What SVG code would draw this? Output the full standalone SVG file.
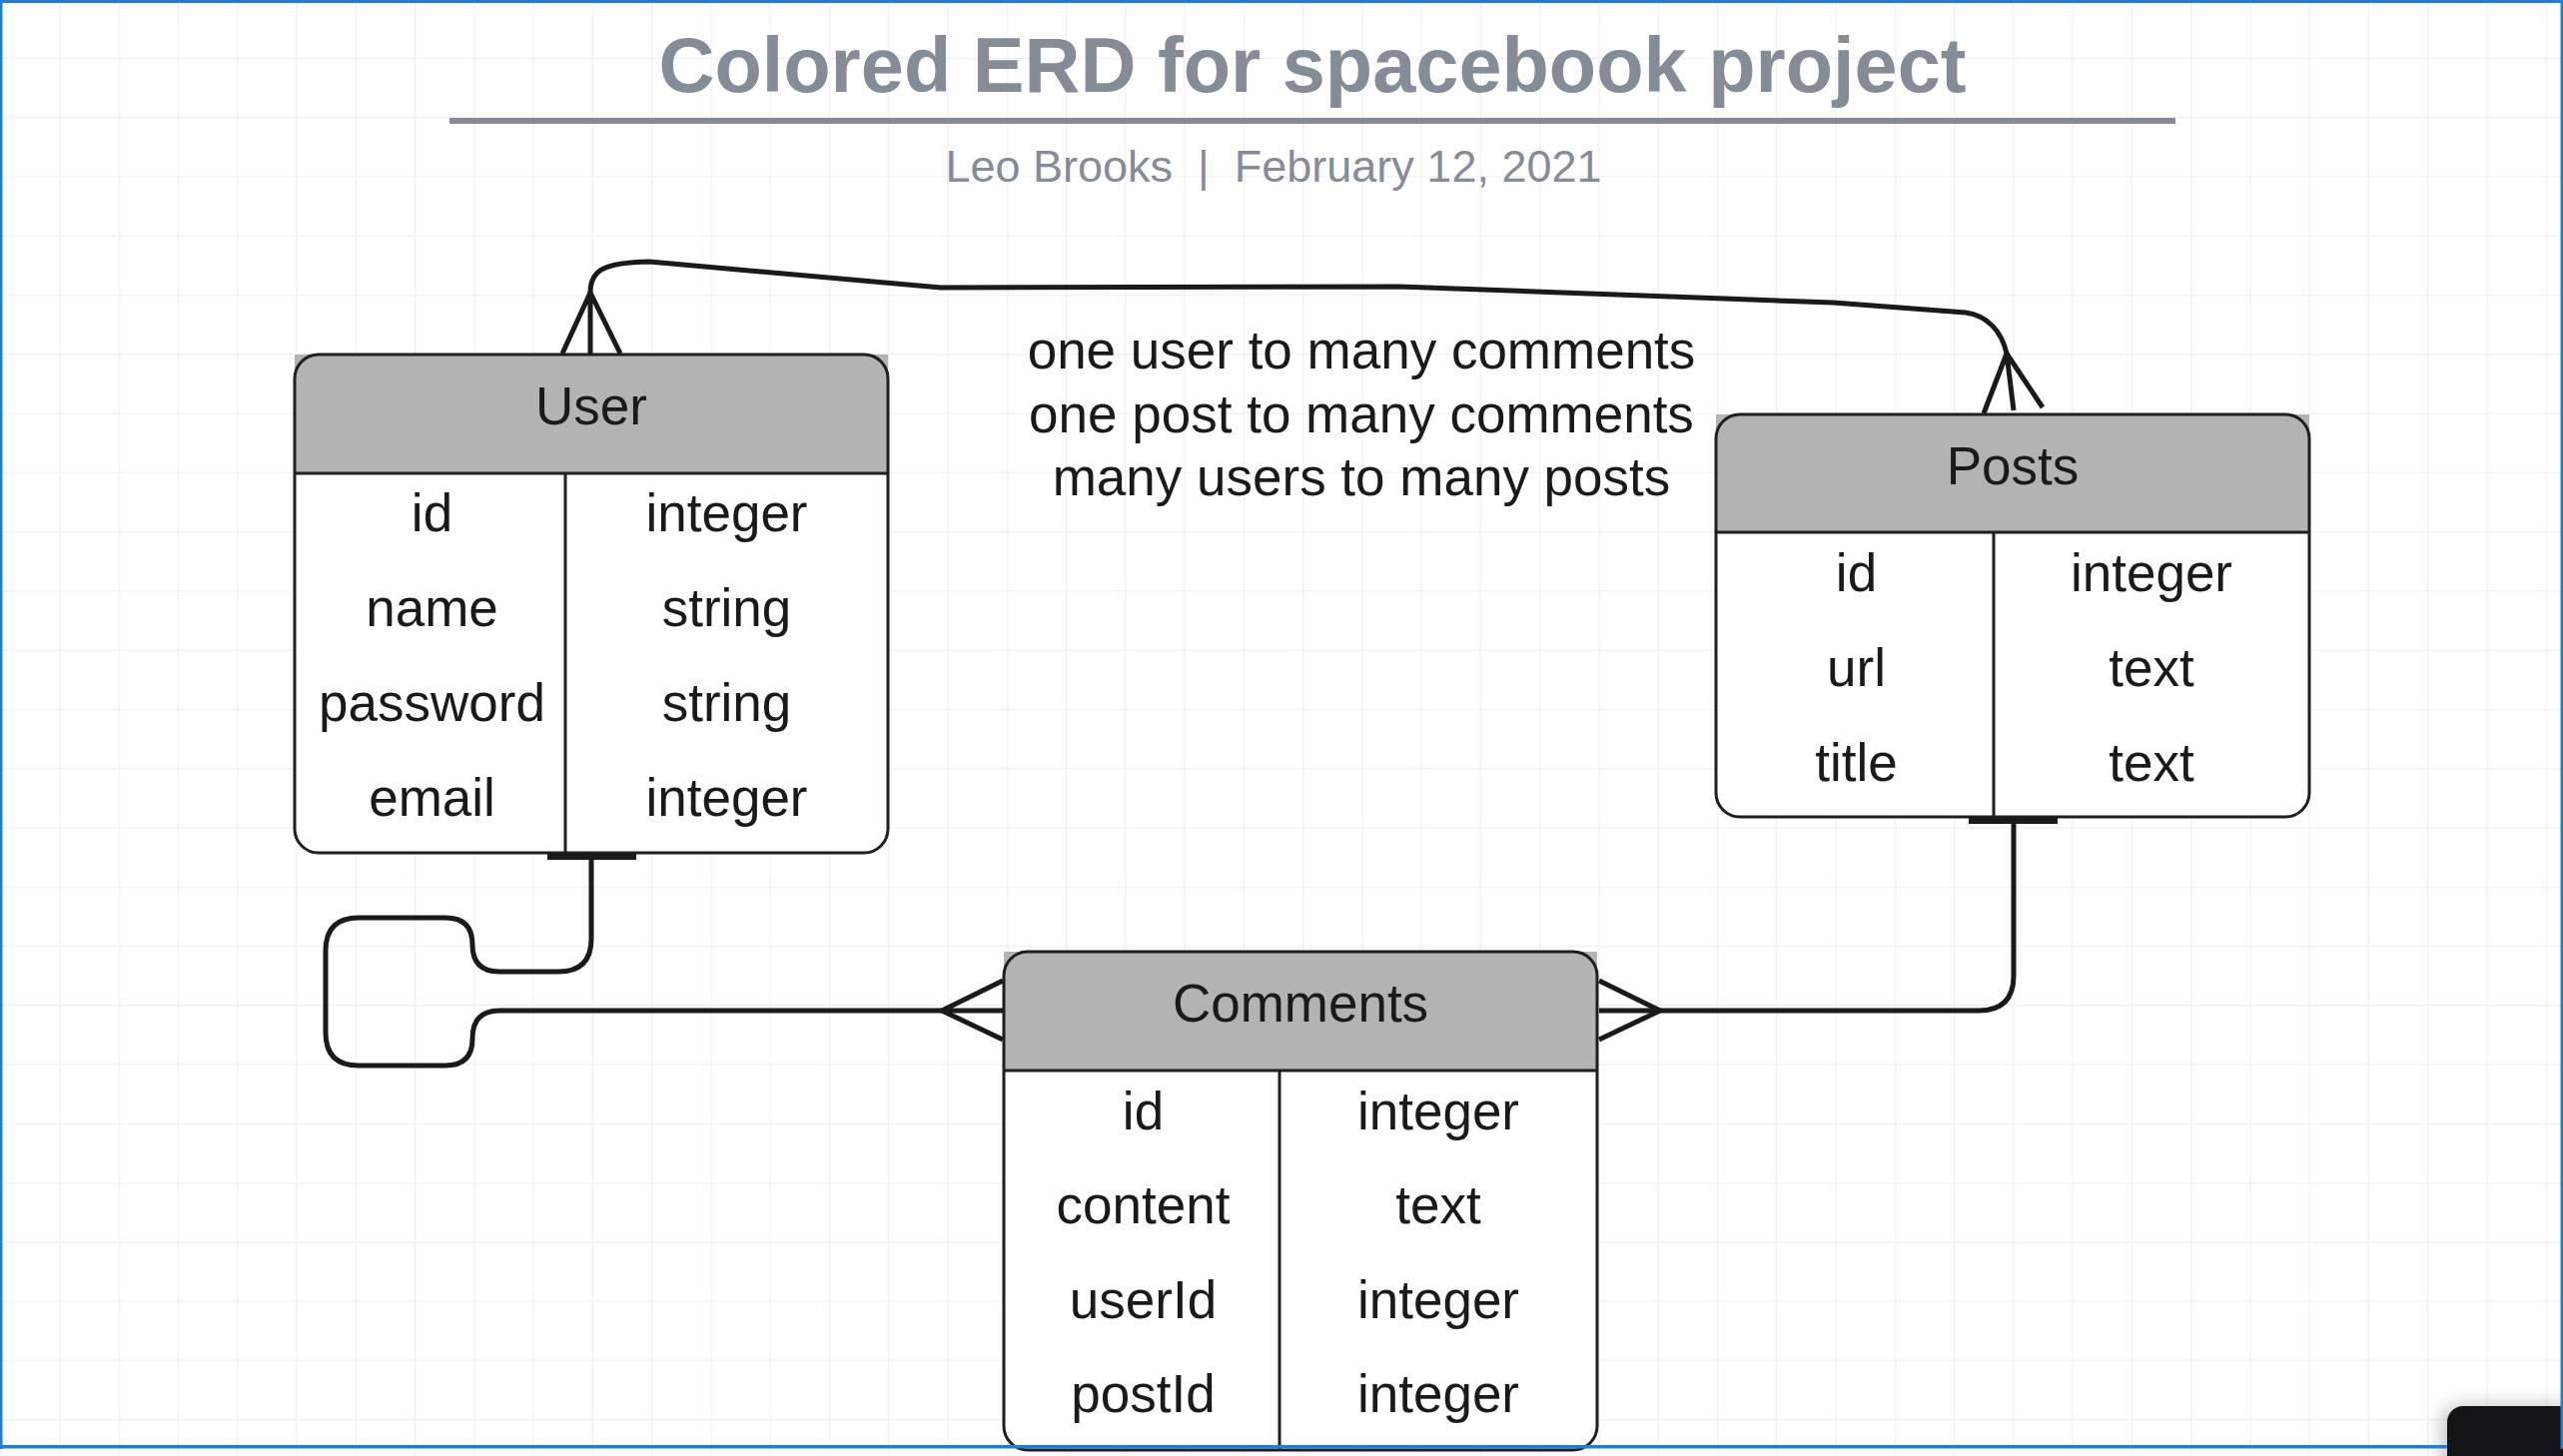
<svg xmlns="http://www.w3.org/2000/svg" width="2566" height="1458" viewBox="0 0 2566 1458">
  <defs>
    <pattern id="grid" patternUnits="userSpaceOnUse" x="0" y="-1.5" width="59.27" height="59.27">
      <rect x="0" y="0" width="1.3" height="59.27" fill="#f0f0f0"/>
      <rect x="0" y="0" width="59.27" height="1.3" fill="#f0f0f0"/>
    </pattern>
    <filter id="shadow" x="-50%" y="-50%" width="200%" height="200%">
      <feGaussianBlur stdDeviation="10"/>
    </filter>
    <style>
      .title { font-family: "Liberation Sans", Arial, sans-serif; font-weight: bold; font-size: 77.5px; fill: #868c97; text-anchor: middle; }
      .sub { font-family: "Liberation Sans", Arial, sans-serif; font-size: 45px; fill: #868c97; text-anchor: middle; }
      .t { font-family: "Liberation Sans", Arial, sans-serif; font-size: 53px; fill: #1a1a1a; text-anchor: middle; }
      .hdr { fill: #b3b3b3; }
      .body { fill: #ffffff; }
      .edge { fill: none; stroke: #1f1f1f; stroke-width: 3; }
      .conn { fill: none; stroke: #1a1a1a; stroke-width: 5; stroke-linejoin: round; }
      .bar { fill: #1a1a1a; }
    </style>
  </defs>

  <rect x="0" y="0" width="2566" height="1458" fill="#ffffff"/>
  <rect x="0" y="0" width="2566" height="1458" fill="url(#grid)"/>

  <g id="title">
    <text class="title" x="1314" y="92">Colored ERD for spacebook project</text>
    <rect x="450" y="118" width="1728" height="6" fill="#868c97"/>
    <text class="sub" x="1275" y="182" xml:space="preserve">Leo Brooks  |  February 12, 2021</text>
  </g>

  <g id="relations-note">
    <text class="t" x="1363" y="369">one user to many comments</text>
    <text class="t" x="1363" y="433">one post to many comments</text>
    <text class="t" x="1363" y="496">many users to many posts</text>
  </g>

  <g id="user">
    <rect class="hdr" x="295" y="355" width="594" height="119"/>
    <path class="body" d="M295,474 H889 V830 Q889,854 865,854 H319 Q295,854 295,830 Z"/>
    <rect class="edge" x="295" y="355" width="594" height="499" rx="24" ry="24"/>
    <line class="edge" x1="295" y1="474" x2="889" y2="474"/>
    <line class="edge" x1="566" y1="474" x2="566" y2="854"/>
    <text class="t" x="592" y="425">User</text>
    <text class="t" x="432.5" y="532">id</text>
    <text class="t" x="727.5" y="532">integer</text>
    <text class="t" x="432.5" y="627">name</text>
    <text class="t" x="727.5" y="627">string</text>
    <text class="t" x="432.5" y="722">password</text>
    <text class="t" x="727.5" y="722">string</text>
    <text class="t" x="432.5" y="817">email</text>
    <text class="t" x="727.5" y="817">integer</text>
  </g>

  <g id="posts">
    <rect class="hdr" x="1718" y="415" width="594" height="118"/>
    <path class="body" d="M1718,533 H2312 V794 Q2312,818 2288,818 H1742 Q1718,818 1718,794 Z"/>
    <rect class="edge" x="1718" y="415" width="594" height="403" rx="24" ry="24"/>
    <line class="edge" x1="1718" y1="533" x2="2312" y2="533"/>
    <line class="edge" x1="1996" y1="533" x2="1996" y2="818"/>
    <text class="t" x="2015" y="485">Posts</text>
    <text class="t" x="1858.5" y="592">id</text>
    <text class="t" x="2154" y="592">integer</text>
    <text class="t" x="1858.5" y="687">url</text>
    <text class="t" x="2154" y="687">text</text>
    <text class="t" x="1858.5" y="782">title</text>
    <text class="t" x="2154" y="782">text</text>
  </g>

  <g id="comments">
    <rect class="hdr" x="1005" y="953" width="594" height="119"/>
    <path class="body" d="M1005,1072 H1599 V1428 Q1599,1452 1575,1452 H1029 Q1005,1452 1005,1428 Z"/>
    <rect class="edge" x="1005" y="953" width="594" height="499" rx="24" ry="24"/>
    <line class="edge" x1="1005" y1="1072" x2="1599" y2="1072"/>
    <line class="edge" x1="1281" y1="1072" x2="1281" y2="1452"/>
    <text class="t" x="1302" y="1023">Comments</text>
    <text class="t" x="1144.5" y="1131">id</text>
    <text class="t" x="1440" y="1131">integer</text>
    <text class="t" x="1144.5" y="1225">content</text>
    <text class="t" x="1440" y="1225">text</text>
    <text class="t" x="1144.5" y="1320">userId</text>
    <text class="t" x="1440" y="1320">integer</text>
    <text class="t" x="1144.5" y="1414">postId</text>
    <text class="t" x="1440" y="1414">integer</text>
  </g>

  <g id="connectors">
    <!-- Users many-to-many Posts -->
    <path class="conn" d="M591,293 C591,270 605,263 650,262 L942,288 L1401,287 L1835,303 L1968,313 C1990,316 2004,332 2009,354"/>
    <path class="conn" d="M563,354 L591,293 L621,354 M591,293 L591,354"/>
    <path class="conn" d="M1986,414 L2009,354 L2045,408 M2009,354 L2016,411"/>
    <!-- User one-to-many Comments -->
    <rect class="bar" x="548" y="854" width="89" height="7"/>
    <path class="conn" d="M592,861 L592,940 Q592,973 559,973 L500,973 Q473,973 473,946 Q473,919 446,919 L359,919 Q326,919 326,952 L326,1034 Q326,1067 359,1067 L446,1067 Q473,1067 473,1040 Q473,1012 500,1012 L1004,1012"/>
    <path class="conn" d="M1004,982 L943,1012 L1004,1041"/>
    <!-- Posts one-to-many Comments -->
    <rect class="bar" x="1971" y="818" width="89" height="7"/>
    <path class="conn" d="M2016,825 L2016,977 Q2016,1012 1981,1012 L1601,1012"/>
    <path class="conn" d="M1601,982 L1662,1012 L1601,1041"/>
  </g>

  <g id="frame">
    <rect x="2445" y="1408" width="160" height="80" rx="16" fill="#000000" opacity="0.25" filter="url(#shadow)"/>
    <rect x="2450" y="1408" width="150" height="80" rx="16" fill="#131417"/>
    <rect x="0" y="0" width="2566" height="3" fill="#1e7fd6"/>
    <rect x="0" y="0" width="2.5" height="1451" fill="#1e7fd6"/>
    <rect x="2563.5" y="0" width="2.5" height="1451" fill="#1e7fd6"/>
    <rect x="0" y="1447" width="2450" height="3.5" fill="#1e7fd6"/>
  </g>
</svg>
